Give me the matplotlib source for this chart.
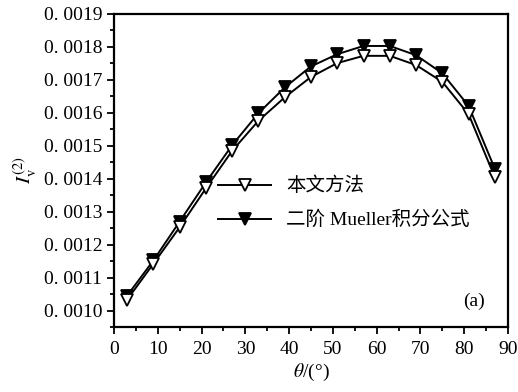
import numpy as np
import matplotlib.pyplot as plt
from matplotlib.ticker import MultipleLocator, FuncFormatter

plt.rcParams['font.family'] = ['Liberation Serif', 'Noto Sans CJK SC', 'DejaVu Serif']
plt.rcParams['mathtext.fontset'] = 'stix'

theta = [3, 9, 15, 21, 27, 33, 39, 45, 51, 57, 63, 69, 75, 81, 87]
# this paper's method (open triangles)
i_this = [0.001033, 0.001142, 0.001253, 0.001371, 0.001485, 0.001576, 0.001647, 0.001709,
          0.001751, 0.001773, 0.001773, 0.001745, 0.001694, 0.001596, 0.001404]
# second-order Mueller integral formula (filled triangles)
i_mueller = [0.001045, 0.001152, 0.001270, 0.001389, 0.001502, 0.001599, 0.001677, 0.001741,
             0.001778, 0.001803, 0.001803, 0.001775, 0.001720, 0.001621, 0.001430]

labels = ["本文方法", "二阶 Mueller积分公式"]

fig = plt.figure(figsize=(5.18, 3.92), dpi=100)
ax = fig.add_axes([114 / 518, 1 - 327 / 392, 394 / 518, 313 / 392])

ax.plot(theta, i_this, color="black", lw=1.4, marker="v", ms=9,
        mfc="white", mec="black", mew=1.3, label=labels[0], zorder=3)
ax.plot(theta, i_mueller, color="black", lw=1.4, marker="v", ms=9,
        mfc="black", mec="black", mew=1.3, label=labels[1], zorder=2)

ax.set_xlim(0, 90)
ax.set_ylim(0.00095, 0.0019)
ax.xaxis.set_major_locator(MultipleLocator(10))
ax.xaxis.set_minor_locator(MultipleLocator(5))
ax.yaxis.set_major_locator(MultipleLocator(0.0001))
ax.yaxis.set_minor_locator(MultipleLocator(0.00005))
ax.yaxis.set_major_formatter(FuncFormatter(lambda v, p: ("%.4f" % v).replace(".", ". ")))

ax.tick_params(which="both", direction="out", width=1.3, labelsize=14, top=False, right=False)
ax.tick_params(which="major", length=5)
ax.tick_params(axis="x", which="major", pad=5)
ax.tick_params(which="minor", length=3)
for s in ax.spines.values():
    s.set_linewidth(1.6)

ax.set_xlabel(r"$\theta$/(°)", fontsize=14, labelpad=3)
ax.set_ylabel(r"$I_{\rm v}^{(2)}$", fontsize=15, labelpad=3)

ax.legend(loc="center left", bbox_to_anchor=(0.24, 0.396), frameon=False, fontsize=14,
          borderpad=0, handlelength=2.7, labelspacing=0.8, handletextpad=0.8)
ax.text(0.914, 0.081, "(a)", transform=ax.transAxes, ha="center", va="center", fontsize=14)

plt.savefig("out.png", dpi=100)
